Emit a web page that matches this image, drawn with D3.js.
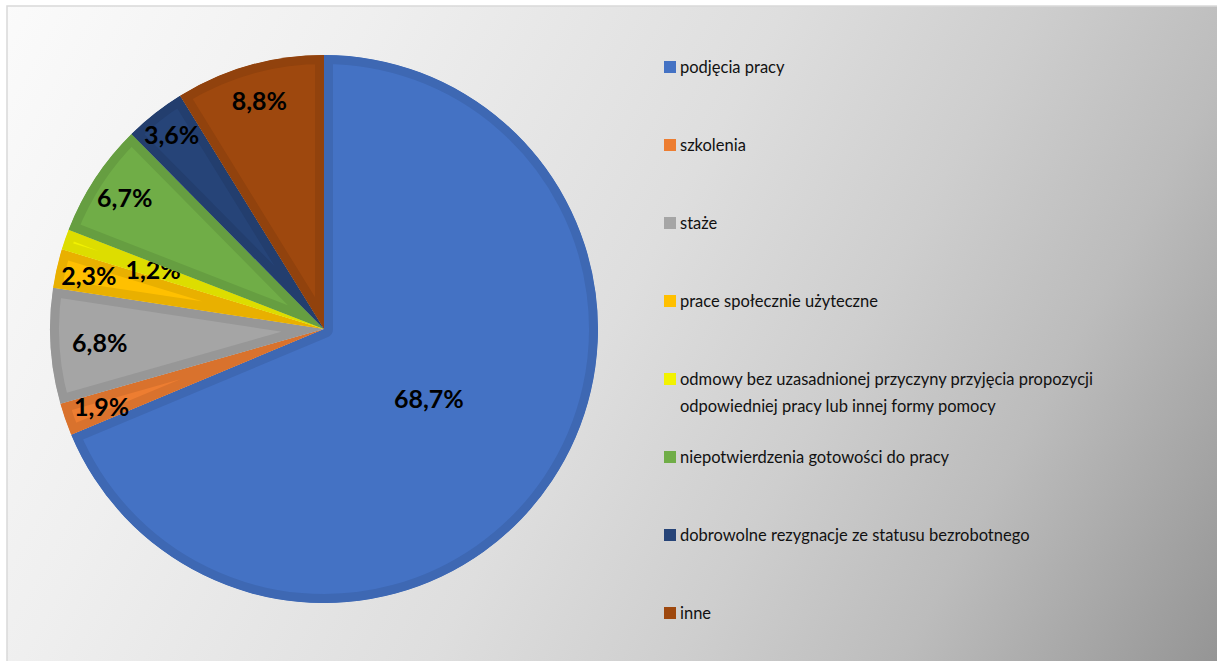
<!DOCTYPE html>
<html>
<head>
<meta charset="utf-8">
<script src="https://cdn.jsdelivr.net/npm/d3@7"></script>
<style>
  body { margin: 0; background: #fff; }
  svg { display: block; }
</style>
</head>
<body>
<div id="chart"></div>
<script>
// data
const categories = [
    "podjęcia pracy",
    "szkolenia",
    "staże",
    "prace społecznie użyteczne",
    "odmowy bez uzasadnionej przyczyny przyjęcia propozycji|odpowiedniej pracy lub innej formy pomocy",
    "niepotwierdzenia gotowości do pracy",
    "dobrowolne rezygnacje ze statusu bezrobotnego",
    "inne"
];
const values = [68.7, 1.9, 6.8, 2.3, 1.2, 6.7, 3.6, 8.8];
const colors = ["#4472C4", "#ED7D31", "#A5A5A5", "#FFC000", "#F2F200", "#70AD47", "#264478", "#9E480E"];

// label distance from centre, as share of the radius
const labelRadius = [0.46, 0.86, 0.82, 0.88, 0.66, 0.87, 0.90, 0.865];

const width = 1217, height = 661;
const cx = 324, cy = 329, radius = 274;

const svg = d3.select("#chart").append("svg")
    .attr("width", width)
    .attr("height", height);

const defs = svg.append("defs");

// background: light at top left, darker to bottom right
const grad = defs.append("linearGradient")
    .attr("id", "bg")
    .attr("gradientUnits", "userSpaceOnUse")
    .attr("x1", 0).attr("y1", 0)
    .attr("x2", width).attr("y2", height);
[[0, "#fbfbfb"], [0.24, "#efefef"], [0.5, "#dedede"], [0.66, "#cecece"], [0.8, "#bcbcbc"], [1, "#959595"]].forEach(s => {
    grad.append("stop").attr("offset", s[0]).attr("stop-color", s[1]);
});

svg.append("rect")
    .attr("x", 7).attr("y", 6)
    .attr("width", width).attr("height", height)
    .attr("fill", "url(#bg)")
    .attr("stroke", "#d9d9d9")
    .attr("stroke-width", 1.5);

const pie = d3.pie().sort(null).value(d => d)(values);
const arc = d3.arc().innerRadius(0).outerRadius(radius);

const g = svg.append("g").attr("transform", `translate(${cx},${cy})`);

const slices = g.selectAll("g.slice")
    .data(pie)
    .enter().append("g")
    .attr("class", "slice");

// clip each slice to itself so the darker stroke only shows inside (bevel look)
slices.append("clipPath")
    .attr("id", (d, i) => "clip" + i)
    .append("path")
    .attr("d", arc);

slices.append("path")
    .attr("d", arc)
    .attr("fill", (d, i) => colors[i])
    .attr("stroke", (d, i) => d3.color(colors[i]).darker(0.25))
    .attr("stroke-width", 18)
    .attr("stroke-linejoin", "round")
    .attr("clip-path", (d, i) => `url(#clip${i})`);

const fmt = v => d3.format(".1f")(v).replace(".", ",") + "%";

slices.append("text")
    .attr("transform", (d, i) => {
        const r = radius * labelRadius[i];
        const c = d3.arc().innerRadius(r).outerRadius(r).centroid(d);
        return `translate(${c[0]},${c[1]})`;
    })
    .attr("text-anchor", "middle")
    .attr("dy", "0.36em")
    .style("font-family", "Lato, 'Open Sans', sans-serif")
    .style("font-weight", "bold")
    .style("font-size", "25px")
    .attr("fill", "#000")
    .text(d => fmt(d.data));

// legend
const legendY = d3.scalePoint()
    .domain(d3.range(categories.length))
    .range([67, 613]);

const legend = svg.append("g")
    .selectAll("g")
    .data(categories)
    .enter().append("g")
    .attr("transform", (d, i) => `translate(664,${legendY(i)})`);

legend.append("rect")
    .attr("x", 0).attr("y", -6)
    .attr("width", 12).attr("height", 12)
    .attr("fill", (d, i) => colors[i]);

legend.append("text")
    .attr("x", 16)
    .style("font-family", "Lato, 'Open Sans', sans-serif")
    .style("font-size", "16.5px")
    .attr("fill", "#111")
    .selectAll("tspan")
    .data(d => d.split("|"))
    .enter().append("tspan")
    .attr("x", 16)
    .attr("y", (d, j) => j * 27)
    .attr("dy", "0.35em")
    .text(d => d);
</script>
</body>
</html>
